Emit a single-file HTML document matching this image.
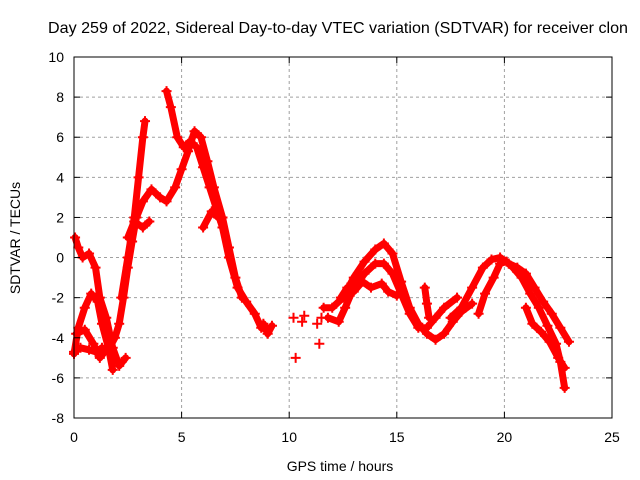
<!DOCTYPE html>
<html><head><meta charset="utf-8"><style>body{margin:0;background:#fff}svg{display:block;font-family:"Liberation Sans",sans-serif}</style></head>
<body>
<svg id="chart" width="640" height="480" viewBox="0 0 640 480">
<text x="48" y="33" font-size="16" textLength="580" lengthAdjust="spacingAndGlyphs" fill="#000">Day 259 of 2022, Sidereal Day-to-day VTEC variation (SDTVAR) for receiver clon</text>
<text x="340" y="471" font-size="14" text-anchor="middle">GPS time / hours</text>
<text transform="translate(20,238) rotate(-90)" font-size="14" text-anchor="middle">SDTVAR / TECUs</text>
<g id="grid"></g><g id="marks"></g><g id="axes"></g>
</svg>
<script>
const xTicks=[0,5,10,15,20,25];
const yTicks=[-8,-6,-4,-2,0,2,4,6,8,10];
const track1=[[0.05,1.0],[0.2,0.5],[0.4,0],[0.7,0.2],[1.0,-0.5],[1.2,-2],[1.5,-3],[1.8,-4.5],[2.1,-5.4],[2.4,-5]];
const track2=[[0.0,-4.8],[0.2,-3.5],[0.5,-2.5],[0.8,-1.8],[1.1,-2.2],[1.3,-3.3],[1.6,-4.5],[1.8,-5.6]];
const track3=[[0.0,-4.7],[0.3,-4.5],[0.7,-4.6],[1.0,-4.7],[1.3,-4.5],[1.6,-4.6],[1.9,-4.0],[2.1,-3.3],[2.3,-2],[2.5,-0.5],[2.7,0.8],[2.9,2.0],[3.2,2.8],[3.6,3.4],[4.0,3.0],[4.3,2.8],[4.7,3.5],[5.0,4.4],[5.3,5.3],[5.6,6.3],[5.9,6.0],[6.2,4.8],[6.5,3.5],[6.9,2.0],[7.2,0.5],[7.5,-1],[7.8,-2.0]];
const track4=[[0.1,-3.8],[0.5,-3.6],[0.9,-4.3],[1.2,-5.0],[1.5,-4.6]];
const track5=[[2.2,-2],[2.5,0],[2.8,2],[3.0,4],[3.2,6.0],[3.3,6.8]];
const track6=[[2.5,1.0],[2.8,1.8],[3.2,1.5],[3.5,1.8]];
const track7=[[4.3,8.3],[4.5,7.5],[4.8,6.0],[5.1,5.5],[5.4,5.8],[5.7,5.5],[6.0,4.5],[6.3,3.5],[6.6,2.5],[6.9,1.5],[7.2,0],[7.6,-1.5],[8.0,-2.2],[8.4,-2.8],[8.7,-3.5],[9.0,-3.6]];
const track8=[[6.0,1.5],[6.4,2.3],[6.7,2.0]];
const track9=[[11.6,-2.5],[12.0,-2.5],[12.5,-2],[13,-1],[13.5,-0.2],[14.0,0.4],[14.4,0.7],[14.8,0.2],[15.2,-1.2],[15.6,-2.5],[16.0,-3.3],[16.4,-3.8],[16.8,-4.1],[17.2,-3.8],[17.6,-3.2],[18.0,-2.7],[18.5,-2.3]];
const track10=[[11.8,-3],[12.3,-3.2],[12.6,-2.5],[13,-1.5],[13.5,-0.8],[14,-0.3],[14.4,-0.3],[14.8,-0.8],[15.2,-1.8],[15.6,-2.8],[16.0,-3.5],[16.4,-3.5],[16.8,-3.0],[17.2,-2.5],[17.8,-2.0]];
const track11=[[12.4,-2],[12.7,-1.5],[13.0,-1.7],[13.4,-1.2],[13.8,-1.5],[14.3,-1.3],[14.6,-1.7],[15.0,-1.9]];
const track12=[[16.3,-1.5],[16.4,-2.3],[16.5,-3.0]];
const track13=[[18.8,-2.8],[19.1,-1.8],[19.5,-1.0],[19.8,-0.3],[20.1,-0.2],[20.4,-0.5],[20.8,-1],[21.2,-1.8],[21.6,-2.5],[22.0,-3.4],[22.4,-4.3],[22.6,-5.2],[22.8,-6.5]];
const track14=[[17.5,-3],[18,-2.5],[18.5,-1.5],[19,-0.5],[19.4,-0.1],[19.8,0],[20.2,-0.3],[20.6,-0.5],[21,-0.8],[21.4,-1.5],[21.8,-2.2],[22.2,-2.8],[22.6,-3.5],[23.0,-4.2]];
const track15=[[21.0,-2.5],[21.3,-3.3],[21.7,-3.7],[22.1,-4.2],[22.5,-5],[22.8,-5.5]];
const track16=[[8.8,-3.3],[9.0,-3.8],[9.2,-3.4]];
const scattered=[[10.2,-3.0],[10.3,-5.0],[10.6,-3.2],[10.7,-2.9],[11.3,-3.3],[11.4,-4.3],[11.5,-3.0]];
const tracks=[track1,track2,track3,track4,track5,track6,track7,track8,track9,track10,track11,track12,track13,track14,track15,track16];

const X0=74,X1=612,Y0=418,Y1=57;
const xs=h=>X0+h/25*(X1-X0);
const ys=v=>Y0-(v+8)/18*(Y0-Y1);
const NS='http://www.w3.org/2000/svg';
function mk(tag,attrs,parent){const e=document.createElementNS(NS,tag);for(const k in attrs)e.setAttribute(k,attrs[k]);parent.appendChild(e);return e;}
const grid=document.getElementById('grid'),marks=document.getElementById('marks'),axes=document.getElementById('axes');
xTicks.forEach(t=>{
  if(t>0&&t<25){const l=mk('line',{x1:xs(t),x2:xs(t),y1:Y1,y2:Y0,stroke:'#a0a0a0','stroke-dasharray':'3,3'},grid);
  
  }
  const tx=mk('text',{x:xs(t),y:Y0+24,'font-size':14,'text-anchor':'middle'},axes);tx.textContent=t;
  
  
  mk('line',{x1:xs(t),x2:xs(t),y1:Y0,y2:Y0-6,stroke:'#000'},axes);
  mk('line',{x1:xs(t),x2:xs(t),y1:Y1,y2:Y1+6,stroke:'#000'},axes);
});
yTicks.forEach(t=>{
  if(t>-8&&t<10){const l=mk('line',{x1:X0,x2:X1,y1:ys(t),y2:ys(t),stroke:'#a0a0a0','stroke-dasharray':'3,3'},grid);
  
  }
  const tx=mk('text',{x:X0-10,y:ys(t)+5,'font-size':14,'text-anchor':'end'},axes);tx.textContent=t;
  
  
  mk('line',{x1:X0,x2:X0+6,y1:ys(t),y2:ys(t),stroke:'#000'},axes);
  mk('line',{x1:X1,x2:X1-6,y1:ys(t),y2:ys(t),stroke:'#000'},axes);
});
const frame=mk('rect',{x:X0,y:Y1,width:X1-X0,height:Y0-Y1,fill:'none',stroke:'#000'},axes);


function plus(h,v){const x=xs(h),y=ys(v);mk('path',{d:`M${x-5},${y}h10M${x},${y-5}v10`,stroke:'#f00','stroke-width':2},marks);}
tracks.forEach(tr=>{
  const pl=mk('polyline',{points:tr.map(p=>xs(p[0])+','+ys(p[1])).join(' '),fill:'none',stroke:'#f00','stroke-width':7,'stroke-linejoin':'round','stroke-linecap':'round'},marks);
  
  
  tr.forEach(p=>plus(p[0],p[1]));
});
scattered.forEach(p=>plus(p[0],p[1]));
</script>
</body></html>
